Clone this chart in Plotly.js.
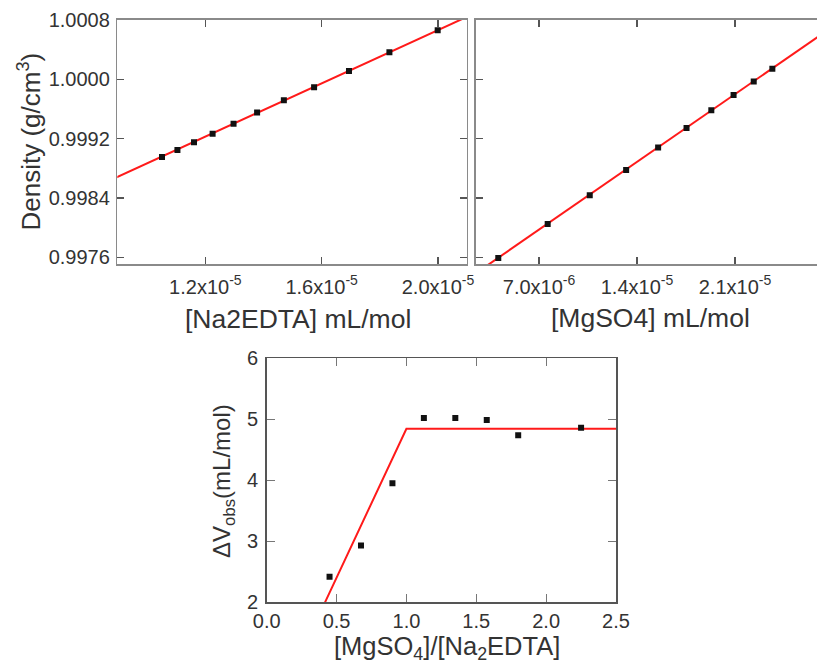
<!DOCTYPE html>
<html>
<head>
<meta charset="utf-8">
<script src="https://cdn.plot.ly/plotly-3.0.1.min.js"></script>
<style>html,body{margin:0;padding:0;background:#fff;}#chart{width:817px;height:664px;}</style>
</head>
<body>
<div id="chart"></div>
<script>
// Panel A: density vs [Na2EDTA]
const naConc = [1.051e-5, 1.104e-5, 1.161e-5, 1.225e-5, 1.297e-5, 1.378e-5, 1.470e-5, 1.574e-5, 1.694e-5, 1.833e-5, 1.999e-5];
const naDensity = [0.998953, 0.999047, 0.999151, 0.999267, 0.999402, 0.999551, 0.999717, 0.999892, 1.000112, 1.000364, 1.000661];
const naFitConc = [0.85e-5, 2.1e-5];
const naFitDensity = [0.998599, 1.000843];

// Panel B: density vs [MgSO4]
const mgConc = [0.409e-5, 0.762e-5, 1.0625e-5, 1.3225e-5, 1.551e-5, 1.754e-5, 1.931e-5, 2.090e-5, 2.234e-5, 2.367e-5];
const mgDensity = [0.997591, 0.998049, 0.998436, 0.998778, 0.999079, 0.999344, 0.999582, 0.999789, 0.999969, 1.000144];
const mgFitConc = [0.25e-5, 2.8e-5];
const mgFitDensity = [0.997386, 1.000713];

// Panel C: ΔVobs vs ratio
const ratio = [0.45, 0.675, 0.9, 1.125, 1.35, 1.575, 1.8, 2.25];
const dVobs = [2.42, 2.93, 3.95, 5.02, 5.02, 4.99, 4.74, 4.86];
const fitRatio = [0.4175, 1.0, 2.5];
const fitDV = [2.0, 4.845, 4.845];

// Tick labels
const densTickVals = [0.9976, 0.9984, 0.9992, 1.0000, 1.0008];
const densTickText = ["0.9976", "0.9984", "0.9992", "1.0000", "1.0008"];
const naTickVals = [1.2e-5, 1.6e-5, 2.0e-5];
const naTickText = ["1.2x10<sup>-5</sup>", "1.6x10<sup>-5</sup>", "2.0x10<sup>-5</sup>"];
const mgTickVals = [7.0e-6, 1.4e-5, 2.1e-5];
const mgTickText = ["7.0x10<sup>-6</sup>", "1.4x10<sup>-5</sup>", "2.1x10<sup>-5</sup>"];
const ratioTickVals = [0, 0.5, 1.0, 1.5, 2.0, 2.5];
const ratioTickText = ["0.0", "0.5", "1.0", "1.5", "2.0", "2.5"];
const dvTickVals = [2, 3, 4, 5, 6];

const FONT = "Liberation Sans, Arial, Helvetica, sans-serif";
const RED = "#ff1a1a";
const MARK = {symbol: "square", size: 6, color: "#111"};

const traces = [
  {x: naFitConc, y: naFitDensity, mode: "lines", line: {color: RED, width: 2}, xaxis: "x", yaxis: "y", hoverinfo: "skip"},
  {x: naConc, y: naDensity, mode: "markers", marker: MARK, xaxis: "x", yaxis: "y"},
  {x: mgFitConc, y: mgFitDensity, mode: "lines", line: {color: RED, width: 2}, xaxis: "x2", yaxis: "y2", hoverinfo: "skip"},
  {x: mgConc, y: mgDensity, mode: "markers", marker: MARK, xaxis: "x2", yaxis: "y2"},
  {x: fitRatio, y: fitDV, mode: "lines", line: {color: RED, width: 2}, xaxis: "x3", yaxis: "y3", hoverinfo: "skip"},
  {x: ratio, y: dVobs, mode: "markers", marker: MARK, xaxis: "x3", yaxis: "y3"}
];

const tickFont = {family: FONT, size: 20, color: "#333"};
const topLine = "#8a8a8a";
const botLine = "#555";

function ax(extra) {
  return Object.assign({
    showgrid: false, zeroline: false, showline: true, linewidth: 1.5,
    ticks: "inside", ticklen: 7, tickwidth: 1.2,
    tickmode: "array", tickfont: tickFont, automargin: false
  }, extra);
}

function title(text, xpx, ypx, angle, size) {
  return {text: text, xref: "paper", yref: "paper", x: xpx / 817, y: 1 - ypx / 664,
    xanchor: "center", yanchor: "middle", textangle: angle, showarrow: false,
    font: {family: FONT, size: size, color: "#333"}};
}

const layout = {
  width: 817, height: 664,
  margin: {l: 0, r: 0, t: 0, b: 0},
  paper_bgcolor: "#fff", plot_bgcolor: "#fff",
  showlegend: false,
  font: {family: FONT, color: "#333"},
  xaxis: ax({domain: [0.1436, 0.5712], range: [0.8973e-5, 2.0987e-5], anchor: "y",
    tickvals: naTickVals, ticktext: naTickText, mirror: "allticks", linecolor: topLine, tickcolor: "#555",
    ticklabelstandoff: 4}),
  yaxis: ax({domain: [0.6020, 0.9699], range: [0.997506, 1.0008], anchor: "x",
    tickvals: densTickVals, ticktext: densTickText, mirror: "allticks", linecolor: topLine, tickcolor: "#555",
    ticklabelstandoff: 2}),
  xaxis2: ax({domain: [0.5823, 1], range: [0.248e-5, 2.686e-5], anchor: "y2",
    tickvals: mgTickVals, ticktext: mgTickText, mirror: "allticks", linecolor: topLine, tickcolor: "#555",
    ticklabelstandoff: 4}),
  yaxis2: ax({domain: [0.6020, 0.9699], range: [0.997506, 1.0008], anchor: "x2",
    tickvals: densTickVals, showticklabels: false, mirror: false, linecolor: topLine, tickcolor: "#555"}),
  xaxis3: ax({domain: [0.3264, 0.7540], range: [0, 2.5], anchor: "y3",
    tickvals: ratioTickVals, ticktext: ratioTickText, mirror: "allticks", linecolor: botLine, tickcolor: "#777", ticklen: 8,
    ticklabelstandoff: 0}),
  yaxis3: ax({domain: [0.0929, 0.4604], range: [2, 6], anchor: "x3",
    tickvals: dvTickVals, mirror: "allticks", linecolor: botLine, tickcolor: "#777", ticklen: 8,
    ticklabelstandoff: 3}),
  annotations: [
    title("Density (g/cm<sup>3</sup>)", 30, 141.5, -90, 26),
    title("[Na2EDTA] mL/mol", 298, 319, 0, 26.5),
    title("[MgSO4] mL/mol", 650, 318, 0, 26.5),
    title("ΔV<sub>obs</sub>(mL/mol)", 223, 481, -90, 24),
    title("[MgSO<sub>4</sub>]/[Na<sub>2</sub>EDTA]", 446.5, 647.5, 0, 25.5)
  ]
};

Plotly.newPlot("chart", traces, layout, {staticPlot: true, displayModeBar: false});
</script>
</body>
</html>
